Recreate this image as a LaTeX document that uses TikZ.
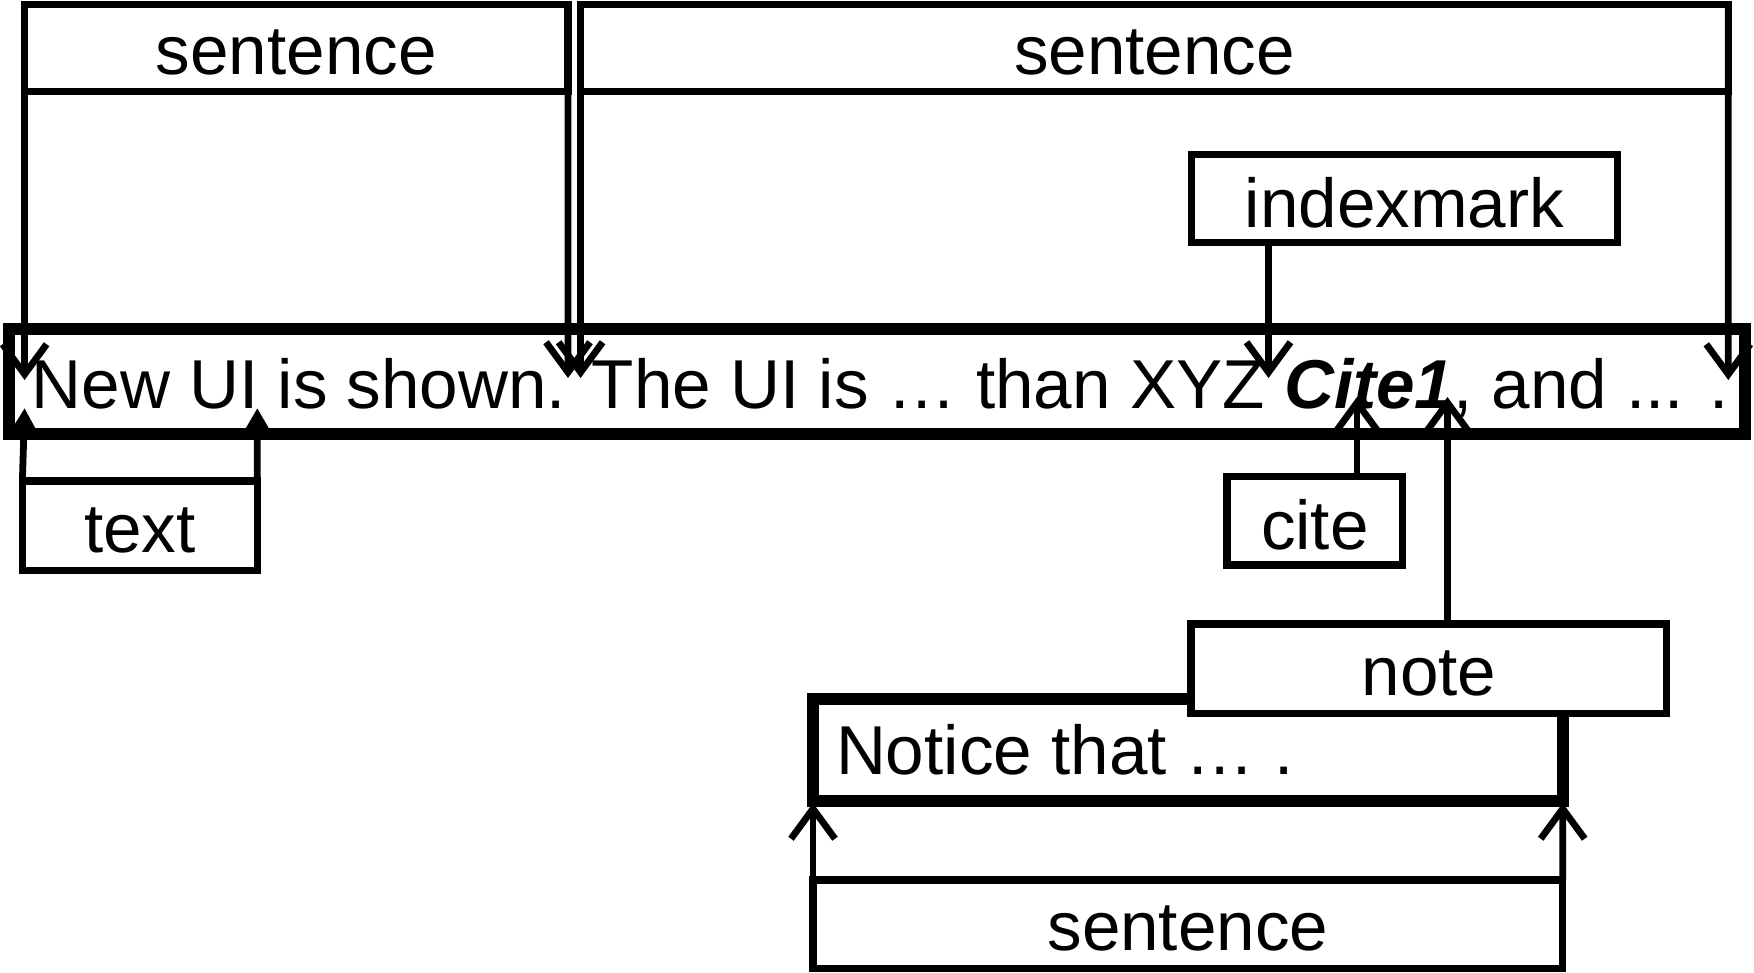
\documentclass[tikz,border=0pt]{standalone}
\usepackage{fontspec}
\setmainfont{Liberation Sans}
\usetikzlibrary{arrows.meta,fit}
\newcommand\diafont{\fontsize{34.6}{40}\selectfont}
\begin{document}
\begin{tikzpicture}[x=0.5pt,y=-0.5pt,
  box/.style={draw, line width=3.6pt, fill=white, inner sep=0pt, outer sep=0pt},
  thickbox/.style={draw, line width=6pt, fill=white, inner sep=0pt, outer sep=0pt},
  lbl/.style={inner sep=0pt, font=\diafont},
  clbl/.style={lbl, yshift=-2.2pt},
  conn/.style={line width=3.4pt, -{Straight Barb[length=15pt,width=22pt,line width=3.4pt]}},
  fconn/.style={line width=3.4pt, -{Triangle[length=14pt,width=15pt]}}
]
\useasboundingbox (0,0) rectangle (1754,973);

% sentence headers
\node[box, fit={(24.6,4.5) (568,91.7)}] (s1) {};
\node[clbl] (s1l) at (s1.center) {sentence};
\node[box, fit={(580.6,4.5) (1728.3,91.7)}] (s2) {};
\node[clbl] (s2l) at (s2.center) {sentence};

% main bar
\node[thickbox, fit={(8.9,328.9) (1745,434)}] (bar) {};
\node[anchor=base west, lbl] (mt) at (31.3,408)
  {New UI is shown. The UI is … than XYZ \textbf{\textit{Cite1}}, and ... .};

% tip coordinates
\coordinate (t1) at (24.6,380);
\coordinate (t2) at (568,378);
\coordinate (t3) at (580.6,378);
\coordinate (t4) at (1728.3,380);
\coordinate (t5) at (1268.5,378);
\coordinate (t6) at (24.6,408);
\coordinate (t7) at (257.3,408);
\coordinate (t8) at (1357,397);
\coordinate (t9) at (1447.5,397);

\draw[conn] (s1.north west) -- (t1);
\draw[conn] (s1.north east) -- (t2);
\draw[conn] (s2.north west) -- (t3);
\draw[conn] (s2.north east) -- (t4);

% indexmark
\node[box, fit={(1191.3,154.4) (1617.5,242.7)}] (im) {};
\node[clbl] (iml) at (im.center) {indexmark};
\draw[conn] (im.south -| t5) -- (t5);

% text
\node[box, fit={(22.4,481) (257.3,570.5)}] (tx) {};
\node[clbl] (txl) at (tx.center) {text};
\draw[fconn] (tx.north west) -- (t6);
\draw[fconn] (tx.north east) -- (t7);

% cite
\node[box, fit={(1227,476.5) (1402.7,565)}] (ct) {};
\node[clbl] (ctl) at (ct.center) {cite};
\draw[conn] (ct.north -| t8) -- (t8);

% notice
\node[thickbox, fit={(813,699) (1562.7,801)}] (nb) {};
\node[anchor=base west, lbl] (nt) at (835.6,774) {Notice that … .};

% note
\node[box, fit={(1191,624) (1666.7,713.7)}] (note) {};
\node[clbl] (notel) at (note.center) {note};
\draw[conn] (note.north -| t9) -- (t9);

% sentence bottom
\node[box, fit={(813,880) (1562.7,968.7)}] (s3) {};
\node[clbl] (s3l) at (s3.center) {sentence};
\coordinate (t10) at (813,803);
\coordinate (t11) at (1562.7,803);
\draw[conn] (s3.north west) -- (t10);
\draw[conn] (s3.north east) -- (t11);
\end{tikzpicture}
\end{document}
